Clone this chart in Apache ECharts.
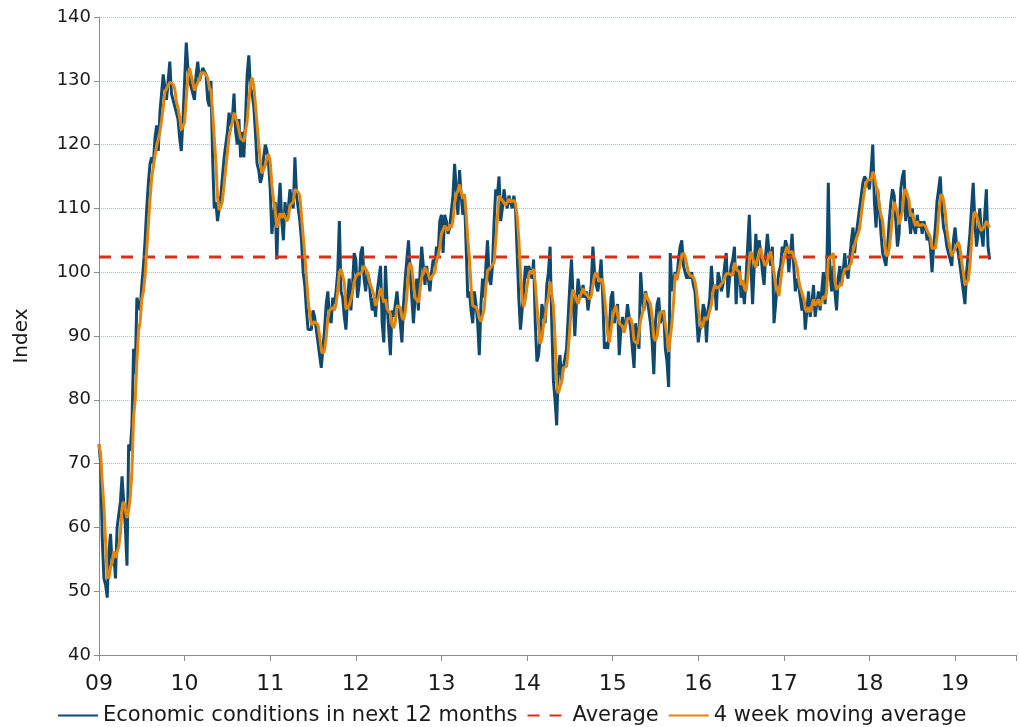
<!DOCTYPE html>
<html><head><meta charset="utf-8">
<script src="https://cdn.jsdelivr.net/npm/echarts@6/dist/echarts.min.js"></script>
<style>html,body{margin:0;padding:0;background:#fff}#c{width:1019px;height:727px}</style>
</head><body><div id="c"></div>
<script>
const yearLabels = ['09','10','11','12','13','14','15','16','17','18','19'];
const weeksPerYear = 52;
const y2009 = [73,70,58,52,51,49,56,59,54,56,52,60,60,64,68,64,60,54,73,72,76,88,84,96,95,94,98,101,105,110,114,117,118,117,121,123,119,125,128,131,129,127,130,133,128,127,127,125,124,121,119,124];
const y2010 = [130,136,132,130,129,128,127,131,133,130,131,132,132,131,127,126,130,118,110,111,108,110,112,115,118,120,122,125,123,124,128,122,120,124,118,122,118,124,131,134,129,128,126,122,117,116,114,115,118,120,119,117];
const y2011 = [113,106,109,111,102,110,114,108,105,111,108,110,113,111,110,118,112,110,108,105,100,98,94,91,91,91,94,93,91,89,87,85,88,91,95,97,93,92,96,95,97,100,108,97,96,93,91,96,99,94,98,103];
const y2012 = [102,96,98,103,104,99,97,100,99,96,94,96,93,97,99,101,92,89,101,95,91,87,94,93,95,97,94,92,89,95,99,102,105,100,96,92,96,99,94,100,104,101,98,101,99,97,100,102,101,104,103,108];
const y2013 = [109,103,109,108,106,107,107,112,117,113,109,116,112,109,112,104,96,97,94,92,97,95,92,87,95,99,96,101,105,99,98,101,108,113,112,115,108,110,113,111,110,112,111,110,112,110,103,96,91,94,97,101];
const y2014 = [99,101,100,99,102,92,86,87,90,95,95,92,98,100,104,92,83,80,76,85,87,83,85,85,88,93,98,102,96,90,95,99,97,96,98,96,97,94,96,98,104,100,98,97,99,102,96,88,89,88,91,96];
const y2015 = [97,92,94,95,87,91,93,91,92,95,93,91,88,85,92,90,88,100,96,94,97,97,94,92,89,84,92,95,96,92,93,94,88,86,82,103,97,99,100,99,102,104,105,101,100,99,100,99,100,98,97,93];
const y2016 = [89,91,92,95,94,89,94,96,101,97,98,94,100,99,97,98,101,103,96,99,101,102,104,95,100,101,96,98,95,99,104,109,101,95,101,106,101,105,103,100,98,103,106,103,101,104,92,95,98,100,101,104];
const y2017 = [103,105,104,100,103,106,101,97,99,98,96,94,96,91,94,97,93,95,98,93,95,97,94,94,100,95,99,114,100,97,101,97,94,99,101,98,100,103,100,99,102,105,107,103,106,108,110,112,114,115,115,114];
const y2018 = [113,116,120,111,107,113,110,106,103,102,101,104,108,111,113,112,108,104,106,113,115,116,108,112,109,106,110,107,106,109,107,108,106,108,107,105,106,104,100,104,107,111,113,115,110,107,106,104,103,102,101,105];
const y2019 = [107,104,103,101,99,97,95,100,103,106,110,114,108,104,106,110,106,104,109,113,104,102];
const averageValue = 102.4;

const weekly = [].concat(y2009,y2010,y2011,y2012,y2013,y2014,y2015,y2016,y2017,y2018,y2019);
const weeklyData = weekly.map((v,i)=>[i,v]);
const maData = weekly.map((v,i)=>{const s=weekly.slice(Math.max(0,i-3),i+1);return [i, s.reduce((a,b)=>a+b,0)/s.length];});
const avgData = weekly.map((v,i)=>[i,averageValue]);

const FONT = 'DejaVu Sans';
const chart = echarts.init(document.getElementById('c'));
chart.setOption({
  animation:false,
  textStyle:{fontFamily:FONT},
  grid:{left:99,right:3,top:17,bottom:72,containLabel:false},
  xAxis:{type:'value',min:0,max:557,interval:weeksPerYear,
    axisLine:{show:true,lineStyle:{color:'#8c8c8c',width:1}},
    axisTick:{show:true,length:6,lineStyle:{color:'#8c8c8c'}},
    axisLabel:{margin:18,fontSize:22,color:'#1a1a1a',fontFamily:FONT,
      formatter:v=>(v%weeksPerYear===0 && v/weeksPerYear<yearLabels.length)?yearLabels[v/weeksPerYear]:''},
    splitLine:{show:false}},
  yAxis:{type:'value',min:40,max:140,interval:10,name:'Index',nameLocation:'middle',nameGap:67,
    nameTextStyle:{fontSize:20,color:'#1a1a1a',fontFamily:FONT},
    axisLine:{show:true,lineStyle:{color:'#8c8c8c'}},
    axisTick:{show:true,length:5,lineStyle:{color:'#8c8c8c'}},
    axisLabel:{margin:8,fontSize:18,color:'#1a1a1a',fontFamily:FONT},
    splitLine:{show:true,lineStyle:{color:'#a9c0d0',type:'dotted',width:1}}},
  legend:{top:700,left:52,itemWidth:40,itemHeight:14,itemGap:9,
    itemStyle:{opacity:0,color:'rgba(0,0,0,0)',borderWidth:0},
    textStyle:{fontSize:21,color:'#1a1a1a',fontFamily:FONT},
    data:['Economic conditions in next 12 months','Average','4 week moving average']},
  series:[
    {name:'Economic conditions in next 12 months',type:'line',data:weeklyData,symbol:'none',
      lineStyle:{color:'#0f4a6e',width:3},itemStyle:{color:'#0f4a6e'}},
    {name:'Average',type:'line',data:avgData,symbol:'none',
      lineStyle:{color:'#d7301a',width:3,type:[12,10]},itemStyle:{color:'#d7301a'}},
    {name:'4 week moving average',type:'line',data:maData,symbol:'none',
      lineStyle:{color:'#e2850f',width:3},itemStyle:{color:'#e2850f'}}
  ]
});
</script></body></html>
